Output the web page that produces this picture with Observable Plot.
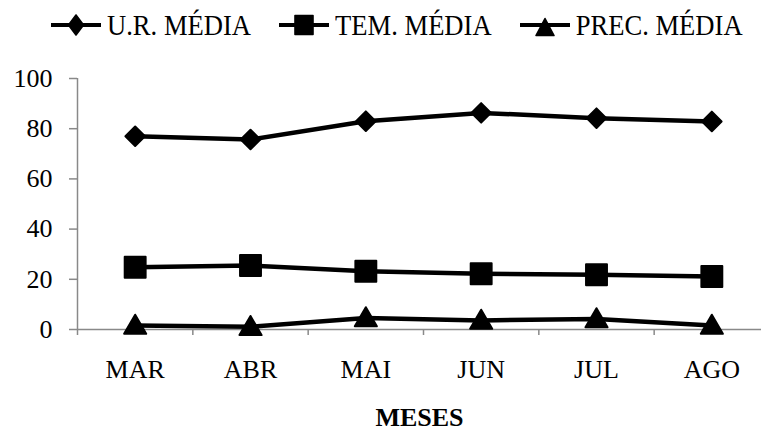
<!DOCTYPE html>
<html><head><meta charset="utf-8">
<script src="https://cdn.jsdelivr.net/npm/d3@7"></script>
<script src="https://cdn.jsdelivr.net/npm/@observablehq/plot@0.6"></script>
<style>
html,body{margin:0;padding:0;background:#fff;}
body{font-family:"Liberation Serif","Times New Roman",serif;color:#000;width:761px;height:432px;overflow:hidden;}
#legend{height:50px;display:flex;align-items:center;padding-left:51px;font-size:26.6px;line-height:1;}
.item{display:flex;align-items:center;margin-right:28px;white-space:nowrap;}
.item svg{margin-right:6px;display:block;}
.item span{display:inline-block;transform:scaleY(1.1);transform-origin:50% 55%;}
#chart svg{display:block;}
</style></head><body>
<div id="legend"></div>
<div id="chart"></div>
<script>
// ---- data ----
const months = ["MAR", "ABR", "MAI", "JUN", "JUL", "AGO"];
const urMedia = [77, 75.7, 83, 86.3, 84.2, 82.9];
const temMedia = [24.8, 25.5, 23.2, 22.2, 21.8, 21.1];
const precMedia = [1.6, 1.1, 4.6, 3.6, 4.2, 1.6];
const yTicks = [0, 20, 40, 60, 80, 100];
const seriesNames = ["U.R. MÉDIA", "TEM. MÉDIA", "PREC. MÉDIA"];

// ---- styles ----
const gray = "#898989";
const series = [
  {name: seriesNames[0], values: urMedia, symbol: "diamond2", r: 8.8,
   lpath: "M0,-10L7.5,0L0,10L-7.5,0Z"},
  {name: seriesNames[1], values: temMedia, symbol: "square", r: 11.8,
   lpath: "M-9,-9.5H9V9.5H-9Z"},
  {name: seriesNames[2], values: precMedia, symbol: "triangle", r: 8.2,
   lpath: "M0,-6.5L9,10.5H-9Z"}
];

// ---- legend ----
const legend = document.getElementById("legend");
for (const s of series) {
  const item = document.createElement("div");
  item.className = "item";
  const w = 50, h = 26;
  const svg = d3.create("svg").attr("width", w).attr("height", h).style("overflow", "visible");
  svg.append("line").attr("x1", 0).attr("x2", w).attr("y1", h / 2).attr("y2", h / 2)
    .attr("stroke", "#000").attr("stroke-width", 4.2);
  svg.append("path").attr("d", s.lpath)
    .attr("transform", `translate(${w / 2},${h / 2})`)
    .attr("fill", "#000").attr("stroke", "#000").attr("stroke-width", 1.6).attr("stroke-linejoin", "round");
  item.appendChild(svg.node());
  const t = document.createElement("span");
  t.textContent = s.name;
  item.appendChild(t);
  legend.appendChild(item);
}

// ---- chart ----
const xi = (d, i) => i + 0.5;
const marks = [
  Plot.ruleY([0], {stroke: gray, strokeWidth: 1.5}),
  Plot.ruleX([0], {stroke: gray, strokeWidth: 1.5}),
  Plot.axisY({ticks: yTicks, tickSize: 8, tickPadding: 17, stroke: gray, strokeWidth: 1.5, fill: "#000", label: null}),
  Plot.axisX({ticks: d3.range(months.length + 1), tickSize: 6, stroke: gray, strokeWidth: 1.5, tickFormat: () => "", label: null}),
  Plot.axisX({ticks: months.map((m, i) => i + 0.5), tickSize: 0, tickPadding: 30, fill: "#000",
    tickFormat: (d) => months[Math.floor(d)], label: null})
];
for (const s of series) {
  marks.push(Plot.line(s.values, {x: xi, y: d => d, stroke: "#000", strokeWidth: 4.5, strokeLinejoin: "round"}));
}
for (const s of series) {
  marks.push(Plot.dot(s.values, {x: xi, y: d => d, symbol: () => s.symbol, r: s.r, fill: "#000", stroke: "#000",
    strokeWidth: 2, strokeLinejoin: "round", dy: s.symbol === "triangle" ? 2 : 0}));
}
marks.push(Plot.text(["MESES"], {frameAnchor: "bottom", dy: 96, fontWeight: "bold", fill: "#000"}));

const chart = Plot.plot({
  width: 761,
  height: 382,
  marginTop: 28,
  marginBottom: 103,
  marginLeft: 77,
  marginRight: 0,
  style: {fontFamily: "'Liberation Serif', 'Times New Roman', serif", fontSize: "26px", color: "#000", background: "#fff", overflow: "visible"},
  x: {domain: [0, months.length], range: [77, 769]},
  y: {domain: [0, 100], range: [279, 28]},
  symbol: {type: "identity"},
  marks
});
document.getElementById("chart").appendChild(chart);
</script>
</body></html>
